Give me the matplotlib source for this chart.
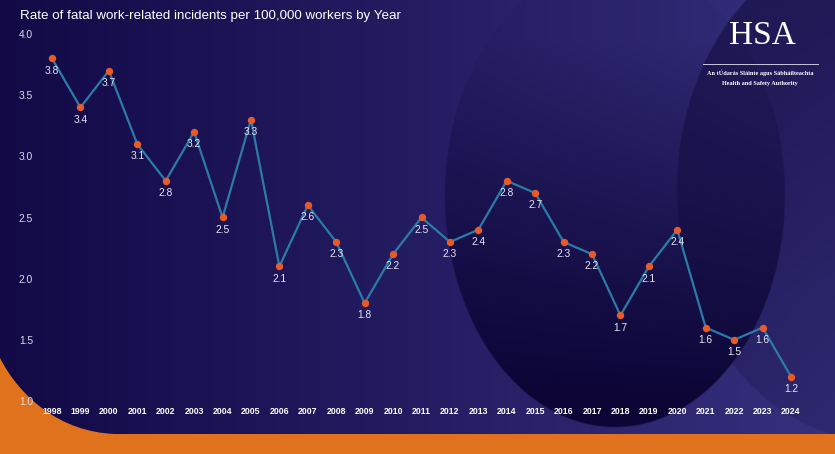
import numpy as np
import matplotlib
matplotlib.use("Agg")
import matplotlib.pyplot as plt
from matplotlib.path import Path
from matplotlib.patches import PathPatch

years = [str(y) for y in range(1998, 2025)]
rates = [3.8, 3.4, 3.7, 3.1, 2.8, 3.2, 2.5, 3.3, 2.1, 2.6, 2.3, 1.8, 2.2, 2.5,
         2.3, 2.4, 2.8, 2.7, 2.3, 2.2, 1.7, 2.1, 2.4, 1.6, 1.5, 1.6, 1.2]
yticks = [1.0, 1.5, 2.0, 2.5, 3.0, 3.5, 4.0]
title = "Rate of fatal work-related incidents per 100,000 workers by Year"

W, H = 835, 454
plt.rcParams['font.family'] = ['Liberation Sans', 'DejaVu Sans']
fig = plt.figure(figsize=(W / 100, H / 100), dpi=100)
fig.patch.set_facecolor('#e0721e')

# ---------- background decoration ----------
bg = fig.add_axes([0, 0, 1, 1], zorder=0)
bg.set_xlim(0, W)
bg.set_ylim(H, 0)
bg.axis('off')

s = 2
xs = (np.arange(W * s) + 0.5) / s
ys = (np.arange(H * s) + 0.5) / s
X, Y = np.meshgrid(xs, ys)
t = (X / W)[..., None]
C0 = np.array([18, 9, 70]) / 255
C1 = np.array([54, 48, 126]) / 255
img = C0 * (1 - t) + C1 * t


def soft_mask(e, rx):
    d = (1 - np.sqrt(e)) * rx
    return np.clip(d + 0.5, 0, 1)


e1 = ((X - 615) / 170) ** 2 + ((Y - 195) / 232) ** 2
m1 = soft_mask(e1, 170)
a1 = np.clip(0.05 + 0.9 * (Y - 40) / 360, 0.05, 0.95) * m1
D1 = np.array([10, 3, 50]) / 255
img = img * (1 - a1[..., None]) + D1 * a1[..., None]

e2 = ((X - 875) / 198) ** 2 + ((Y - 190) / 250) ** 2
m2 = soft_mask(e2, 198)
a2 = np.clip(0.55 - 0.35 * Y / 420, 0.2, 0.55) * m2
D2 = np.array([14, 8, 55]) / 255
img = img * (1 - a2[..., None]) + D2 * a2[..., None]

verts = [(0, 0), (W, 0), (W, 434), (115, 434),
         (60, 432), (20, 397), (0, 358), (0, 0)]
codes = [Path.MOVETO, Path.LINETO, Path.LINETO, Path.LINETO,
         Path.CURVE4, Path.CURVE4, Path.CURVE4, Path.CLOSEPOLY]
clip = PathPatch(Path(verts, codes), transform=bg.transData,
                 facecolor='none', edgecolor='none')
bg.add_patch(clip)
im = bg.imshow(img, extent=(0, W, H, 0), interpolation='antialiased',
               aspect='auto')
im.set_clip_path(clip)

# ---------- main chart ----------
left_px, right_px, top_px, bot_px = 37.8, 805.2, 34, 401
ax = fig.add_axes([left_px / W, 1 - bot_px / H,
                   (right_px - left_px) / W, (bot_px - top_px) / H], zorder=2)
ax.set_facecolor('none')
x = np.arange(len(years))
ax.plot(x, rates, color='#2a7ca6', lw=1.6, zorder=3)
ax.plot(x, rates, 'o', color='#e85a28', ms=4.3, zorder=4)
for xi, v in zip(x, rates):
    ax.annotate(f"{v:.1f}", (xi, v), xytext=(0, -8.8), textcoords='offset points',
                ha='center', va='center', color='#e6e6f2', fontsize=7.4, zorder=5)
ax.set_xlim(-0.5, len(years) - 0.5)
ax.set_ylim(1.0, 4.0)
ax.set_xticks(x)
ax.set_xticklabels(years, fontsize=6.3, fontweight='bold', color='white')
ax.set_yticks(yticks)
ax.set_yticklabels([f"{v:.1f}" for v in yticks], fontsize=7.4, color='#dcdcea')
ax.tick_params(length=0, axis='x', pad=4.3)
ax.tick_params(length=0, axis='y', pad=3.3)
for sp in ax.spines.values():
    sp.set_visible(False)

fig.text(20 / W, 1 - 16 / H, title, color='white', fontsize=9.6,
         ha='left', va='center')

# ---------- logo ----------
fig.text(762 / W, 1 - 36 / H, "HSA", color='white', fontsize=24,
         family='Liberation Serif', ha='center', va='center')
fig.add_artist(plt.Line2D([703 / W, 818 / W], [1 - 63.5 / H, 1 - 63.5 / H],
                          color='#c8c8dc', lw=0.7))
fig.text(760 / W, 1 - 73 / H, "An tÚdarás Sláinte agus Sábháilteachta",
         color='white', fontsize=4.5, family='Liberation Serif',
         fontweight='bold', ha='center', va='center')
fig.text(760 / W, 1 - 83 / H, "Health and Safety Authority",
         color='white', fontsize=4.5, family='Liberation Serif',
         fontweight='bold', ha='center', va='center')

fig.savefig('out.png', dpi=100, facecolor=fig.get_facecolor())
